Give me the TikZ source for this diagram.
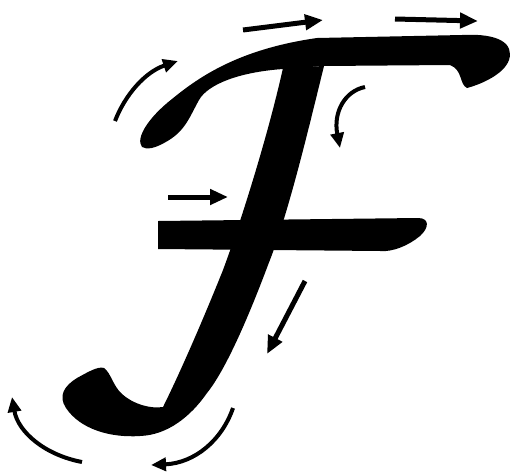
\documentclass[tikz,border=0pt]{standalone}
\usetikzlibrary{arrows.meta}
\tikzset{
	letterInk/.style={
		fill=black, draw=none
	},
	strokeArrow/.style={
		line width=5pt, -{Triangle[length=18pt,width=15pt]}
	},
	curlArrow/.style={
		line width=4pt, -{Triangle[length=15pt,width=13pt]}
	},
	>=stealth,
}
\begin{document}
\begin{tikzpicture}[
x=1pt, y=-1pt
]
\useasboundingbox (0,0) rectangle (511,475);
% top stroke
\fill[letterInk] (142,147)
	.. controls (135,138) and (149,117) .. (172,99)
	.. controls (200,76) and (240,49) .. (317,38)
	-- (462,35)
	.. controls (500,33) and (514,44) .. (509,60)
	.. controls (504,74) and (482,84) .. (467,88)
	.. controls (459,84) and (463,70) .. (450,65)
	-- (323,66) -- (283,69)
	.. controls (240,72) and (208,84) .. (199,100)
	.. controls (189,118) and (185,132) .. (164,143)
	.. controls (155,148) and (147,150) .. (142,147) -- cycle;
% stem and hook
\fill[letterInk] (283,68) -- (324,66)
	.. controls (307,135) and (288,215) .. (268,265)
	.. controls (253,305) and (228,367) .. (207,393)
	.. controls (191,416) and (168,435) .. (140,436)
	.. controls (110,438) and (80,429) .. (66,408)
	.. controls (58,396) and (64,386) .. (77,378)
	.. controls (88,372) and (98,366) .. (104,368)
	.. controls (111,373) and (113,386) .. (122,394)
	.. controls (133,404) and (150,409) .. (163,407)
	.. controls (179,375) and (203,320) .. (223,270)
	.. controls (238,230) and (267,140) .. (283,68) -- cycle;
% middle bar
\fill[letterInk] (158,221) -- (418,218)
	.. controls (430,218) and (429,228) .. (420,236)
	.. controls (408,246) and (392,252) .. (381,251)
	-- (158,249) -- cycle;
\draw[strokeArrow] (243,30) -- (323,20);
\draw[strokeArrow] (395,19) -- (478,21);
\draw[strokeArrow] (168,197) -- (228,197);
\draw[strokeArrow] (305,281) -- (267,354);
\draw[curlArrow] (115,121) .. controls (125,95) and (145,72) .. (178,61);
\draw[curlArrow] (365,87) .. controls (345,91) and (333,112) .. (340,148);
\draw[curlArrow] (82,462) .. controls (45,455) and (18,432) .. (12,397);
\draw[curlArrow] (233,408) .. controls (222,440) and (195,463) .. (151,465);
\end{tikzpicture}
\end{document}
